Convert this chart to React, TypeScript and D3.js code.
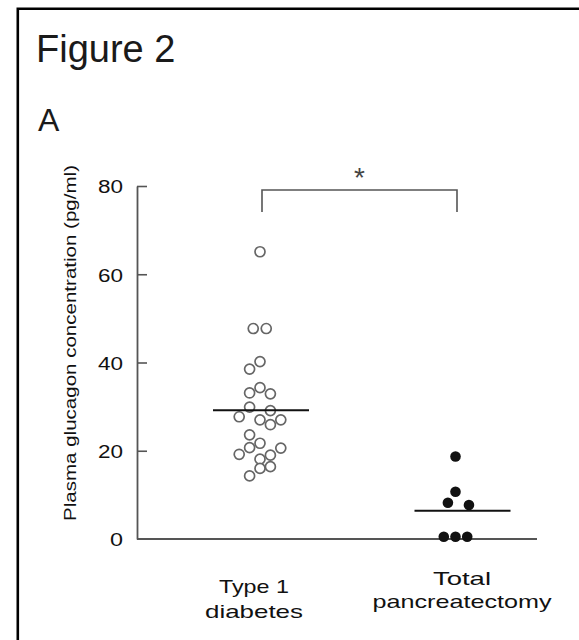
import React, { useEffect, useRef } from 'react';
import * as d3 from 'd3';

const WIDTH = 579;
const HEIGHT = 640;

const categories = ['Type 1 diabetes', 'Total pancreatectomy'];
const categoryLines = [['Type 1', 'diabetes'], ['Total', 'pancreatectomy']];

// plasma glucagon (pg/ml), with the horizontal slot each dot sits in
const type1Values = [65.1, 47.7, 47.7, 40.2, 38.5, 34.3, 33.1, 32.9, 29.9, 29.1, 27.7, 27.0, 27.0, 25.9, 23.6, 21.7, 20.7, 20.6, 19.2, 19.0, 18.1, 16.4, 16.0, 14.3];
const type1Slots = [0, -0.65, 0.6, 0, -1, 0, -1, 1, -1, 1, -2, 0, 2, 1, -1, 0, -1, 2, -2, 1, 0, 1, 0, -1];
const pancValues = [18.7, 10.7, 8.2, 7.7, 0.5, 0.5, 0.5];
const pancSlots = [0, 0, -0.65, 1.15, -1, 0, 1];

const groupMeans = [29.2, 6.4];
const yTicks = [0, 20, 40, 60, 80];

const MARGIN = { left: 137, right: 537, top: 186, bottom: 539 };

const App: React.FC = () => {
    const svgRef = useRef<SVGSVGElement | null>(null);

    useEffect(() => {
        const svg = d3.select(svgRef.current);
        svg.selectAll('*').remove();

        const font = 'Arial, "Liberation Sans", sans-serif';

        // frame (image cropped: only top and left edges visible)
        svg.append('path')
            .attr('d', `M17.8,${HEIGHT} L17.8,8.7 L${WIDTH},8.7`)
            .attr('fill', 'none')
            .attr('stroke', '#000')
            .attr('stroke-width', 2.6);

        svg.append('text')
            .attr('x', 36)
            .attr('y', 62)
            .attr('font-family', font)
            .attr('font-size', 38)
            .attr('fill', '#1a1a1a')
            .text('Figure 2');

        svg.append('text')
            .attr('x', 38)
            .attr('y', 131)
            .attr('font-family', font)
            .attr('font-size', 32)
            .attr('fill', '#1a1a1a')
            .text('A');

        const x = d3.scalePoint<string>()
            .domain(categories)
            .range([260, 455.5]);

        const y = d3.scaleLinear()
            .domain([0, 80])
            .range([MARGIN.bottom, MARGIN.top]);

        // y axis, ticks pointing inward
        const yAxis = svg.append('g')
            .attr('transform', `translate(${MARGIN.left},0)`)
            .call(d3.axisLeft(y).tickValues(yTicks).tickSize(-10).tickSizeOuter(0).tickPadding(14));

        yAxis.select('.domain').attr('stroke', '#555').attr('stroke-width', 1.8);
        yAxis.selectAll('.tick line').attr('stroke', '#555').attr('stroke-width', 1.6);
        yAxis.selectAll<SVGTextElement, number>('.tick text')
            .attr('font-family', font)
            .attr('font-size', 18)
            .attr('fill', '#111')
            .attr('dy', '0.38em')
            .attr('textLength', d => (d === 0 ? 13 : 25))
            .attr('lengthAdjust', 'spacingAndGlyphs');
        yAxis.selectAll('.tick').filter(d => d === 0).select('line').remove();

        // x axis baseline
        svg.append('line')
            .attr('x1', MARGIN.left)
            .attr('x2', MARGIN.right)
            .attr('y1', y(0))
            .attr('y2', y(0))
            .attr('stroke', '#555')
            .attr('stroke-width', 1.8);

        svg.append('text')
            .attr('transform', `translate(76,343) rotate(-90)`)
            .attr('text-anchor', 'middle')
            .attr('font-family', font)
            .attr('font-size', 17)
            .attr('fill', '#111')
            .attr('textLength', 356)
            .attr('lengthAdjust', 'spacingAndGlyphs')
            .text('Plasma glucagon concentration (pg/ml)');

        // category labels
        const labelWidths = [[70, 98], [58, 179]];
        const labelBaselines = [[593, 618], [585, 608]];
        const labelCenters = [254, 462];
        categoryLines.forEach((lines, i) => {
            lines.forEach((line, j) => {
                svg.append('text')
                    .attr('x', labelCenters[i])
                    .attr('y', labelBaselines[i][j])
                    .attr('text-anchor', 'middle')
                    .attr('font-family', font)
                    .attr('font-size', 19)
                    .attr('fill', '#111')
                    .attr('textLength', labelWidths[i][j])
                    .attr('lengthAdjust', 'spacingAndGlyphs')
                    .text(line);
            });
        });

        // significance bracket
        const bx0 = x(categories[0])! + 2;
        const bx1 = x(categories[1])! + 1.5;
        svg.append('path')
            .attr('d', `M${bx0},212 L${bx0},190 L${bx1},190 L${bx1},212`)
            .attr('fill', 'none')
            .attr('stroke', '#555')
            .attr('stroke-width', 1.6);

        svg.append('text')
            .attr('x', (bx0 + bx1) / 2)
            .attr('y', 187)
            .attr('text-anchor', 'middle')
            .attr('font-family', font)
            .attr('font-size', 28)
            .attr('fill', '#444')
            .text('*');

        // type 1 diabetes: open circles
        const openStep = 10.4;
        svg.append('g')
            .selectAll('circle')
            .data(type1Values)
            .enter()
            .append('circle')
            .attr('cx', (d, i) => x(categories[0])! + type1Slots[i] * openStep)
            .attr('cy', d => y(d))
            .attr('r', 5)
            .attr('fill', '#fff')
            .attr('stroke', '#666')
            .attr('stroke-width', 1.7);

        // total pancreatectomy: filled dots
        const filledStep = 11.7;
        svg.append('g')
            .selectAll('circle')
            .data(pancValues)
            .enter()
            .append('circle')
            .attr('cx', (d, i) => x(categories[1])! + pancSlots[i] * filledStep)
            .attr('cy', d => y(d))
            .attr('r', 5.3)
            .attr('fill', '#111');

        // mean lines
        const meanOffsets = [[-47, 49], [-41, 55]];
        svg.append('g')
            .selectAll('line')
            .data(groupMeans)
            .enter()
            .append('line')
            .attr('x1', (d, i) => x(categories[i])! + meanOffsets[i][0])
            .attr('x2', (d, i) => x(categories[i])! + meanOffsets[i][1])
            .attr('y1', d => y(d))
            .attr('y2', d => y(d))
            .attr('stroke', '#111')
            .attr('stroke-width', 2);
    }, []);

    return (
        <svg
            ref={svgRef}
            width={WIDTH}
            height={HEIGHT}
            style={{ position: 'absolute', left: 0, top: 0, background: '#fff' }}
        ></svg>
    );
};

export default App;
